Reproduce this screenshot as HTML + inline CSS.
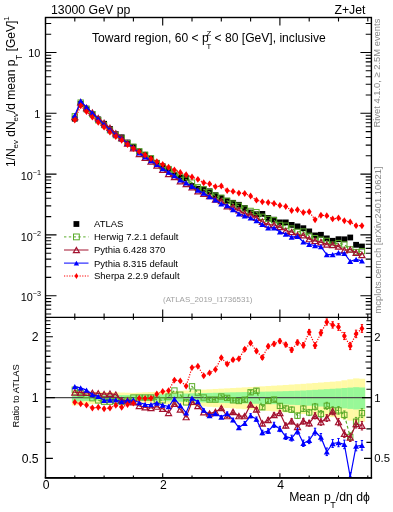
<!DOCTYPE html>
<html><head><meta charset="utf-8"><style>html,body{margin:0;padding:0;background:#fff;width:393px;height:512px;overflow:hidden}svg{display:block;will-change:transform}</style></head>
<body><svg width="393" height="512" viewBox="0 0 393 512">
<rect width="393" height="512" fill="#fff"/>
<rect x="71.87" y="390.44" width="6.16" height="14.95" fill="#fffaa5"/>
<rect x="77.73" y="390.85" width="6.16" height="14.07" fill="#fffaa5"/>
<rect x="83.59" y="391.26" width="6.16" height="13.18" fill="#fffaa5"/>
<rect x="89.45" y="391.66" width="6.16" height="12.30" fill="#fffaa5"/>
<rect x="95.31" y="391.84" width="6.16" height="11.92" fill="#fffaa5"/>
<rect x="101.17" y="392.02" width="6.16" height="11.55" fill="#fffaa5"/>
<rect x="107.03" y="392.19" width="6.16" height="11.17" fill="#fffaa5"/>
<rect x="112.89" y="392.37" width="6.16" height="10.79" fill="#fffaa5"/>
<rect x="118.75" y="392.55" width="6.16" height="10.41" fill="#fffaa5"/>
<rect x="124.61" y="392.72" width="6.16" height="10.04" fill="#fffaa5"/>
<rect x="130.47" y="392.90" width="6.16" height="9.66" fill="#fffaa5"/>
<rect x="136.33" y="392.63" width="6.16" height="10.24" fill="#fffaa5"/>
<rect x="142.19" y="392.36" width="6.16" height="10.82" fill="#fffaa5"/>
<rect x="148.05" y="392.08" width="6.16" height="11.40" fill="#fffaa5"/>
<rect x="153.91" y="391.81" width="6.16" height="11.98" fill="#fffaa5"/>
<rect x="159.77" y="391.54" width="6.16" height="12.57" fill="#fffaa5"/>
<rect x="165.63" y="391.27" width="6.16" height="13.15" fill="#fffaa5"/>
<rect x="171.49" y="391.00" width="6.16" height="13.73" fill="#fffaa5"/>
<rect x="177.35" y="390.73" width="6.16" height="14.31" fill="#fffaa5"/>
<rect x="183.21" y="390.47" width="6.16" height="14.90" fill="#fffaa5"/>
<rect x="189.07" y="390.20" width="6.16" height="15.48" fill="#fffaa5"/>
<rect x="194.93" y="389.89" width="6.16" height="16.16" fill="#fffaa5"/>
<rect x="200.79" y="389.58" width="6.16" height="16.85" fill="#fffaa5"/>
<rect x="206.65" y="389.27" width="6.16" height="17.53" fill="#fffaa5"/>
<rect x="212.51" y="388.97" width="6.16" height="18.21" fill="#fffaa5"/>
<rect x="218.37" y="388.66" width="6.16" height="18.90" fill="#fffaa5"/>
<rect x="224.23" y="388.35" width="6.16" height="19.58" fill="#fffaa5"/>
<rect x="230.09" y="388.05" width="6.16" height="20.27" fill="#fffaa5"/>
<rect x="235.95" y="387.71" width="6.16" height="21.05" fill="#fffaa5"/>
<rect x="241.81" y="387.36" width="6.16" height="21.82" fill="#fffaa5"/>
<rect x="247.67" y="387.02" width="6.16" height="22.60" fill="#fffaa5"/>
<rect x="253.53" y="386.68" width="6.16" height="23.39" fill="#fffaa5"/>
<rect x="259.39" y="386.35" width="6.16" height="24.17" fill="#fffaa5"/>
<rect x="265.25" y="386.01" width="6.16" height="24.95" fill="#fffaa5"/>
<rect x="271.11" y="385.67" width="6.16" height="25.73" fill="#fffaa5"/>
<rect x="276.97" y="385.34" width="6.16" height="26.52" fill="#fffaa5"/>
<rect x="282.83" y="384.96" width="6.16" height="27.42" fill="#fffaa5"/>
<rect x="288.69" y="384.58" width="6.16" height="28.32" fill="#fffaa5"/>
<rect x="294.55" y="384.20" width="6.16" height="29.22" fill="#fffaa5"/>
<rect x="300.41" y="383.83" width="6.16" height="30.12" fill="#fffaa5"/>
<rect x="306.27" y="383.39" width="6.16" height="31.17" fill="#fffaa5"/>
<rect x="312.13" y="382.96" width="6.16" height="32.23" fill="#fffaa5"/>
<rect x="317.99" y="382.52" width="6.16" height="33.29" fill="#fffaa5"/>
<rect x="323.85" y="382.09" width="6.16" height="34.35" fill="#fffaa5"/>
<rect x="329.71" y="381.67" width="6.16" height="35.42" fill="#fffaa5"/>
<rect x="335.57" y="381.24" width="6.16" height="36.49" fill="#fffaa5"/>
<rect x="341.43" y="380.28" width="6.16" height="38.93" fill="#fffaa5"/>
<rect x="347.29" y="379.32" width="6.16" height="41.40" fill="#fffaa5"/>
<rect x="353.15" y="378.38" width="6.16" height="43.88" fill="#fffaa5"/>
<rect x="359.01" y="378.73" width="6.16" height="42.95" fill="#fffaa5"/>
<rect x="71.87" y="393.74" width="6.16" height="7.90" fill="#98f898"/>
<rect x="77.73" y="394.02" width="6.16" height="7.31" fill="#98f898"/>
<rect x="83.59" y="394.30" width="6.16" height="6.73" fill="#98f898"/>
<rect x="89.45" y="394.58" width="6.16" height="6.14" fill="#98f898"/>
<rect x="95.31" y="394.67" width="6.16" height="5.97" fill="#98f898"/>
<rect x="101.17" y="394.75" width="6.16" height="5.79" fill="#98f898"/>
<rect x="107.03" y="394.84" width="6.16" height="5.62" fill="#98f898"/>
<rect x="112.89" y="394.92" width="6.16" height="5.44" fill="#98f898"/>
<rect x="118.75" y="395.01" width="6.16" height="5.27" fill="#98f898"/>
<rect x="124.61" y="395.09" width="6.16" height="5.09" fill="#98f898"/>
<rect x="130.47" y="395.18" width="6.16" height="4.91" fill="#98f898"/>
<rect x="136.33" y="394.99" width="6.16" height="5.30" fill="#98f898"/>
<rect x="142.19" y="394.80" width="6.16" height="5.69" fill="#98f898"/>
<rect x="148.05" y="394.62" width="6.16" height="6.07" fill="#98f898"/>
<rect x="153.91" y="394.43" width="6.16" height="6.46" fill="#98f898"/>
<rect x="159.77" y="394.24" width="6.16" height="6.85" fill="#98f898"/>
<rect x="165.63" y="394.06" width="6.16" height="7.23" fill="#98f898"/>
<rect x="171.49" y="393.87" width="6.16" height="7.62" fill="#98f898"/>
<rect x="177.35" y="393.69" width="6.16" height="8.01" fill="#98f898"/>
<rect x="183.21" y="393.50" width="6.16" height="8.39" fill="#98f898"/>
<rect x="189.07" y="393.32" width="6.16" height="8.78" fill="#98f898"/>
<rect x="194.93" y="393.18" width="6.16" height="9.08" fill="#98f898"/>
<rect x="200.79" y="393.03" width="6.16" height="9.38" fill="#98f898"/>
<rect x="206.65" y="392.89" width="6.16" height="9.68" fill="#98f898"/>
<rect x="212.51" y="392.75" width="6.16" height="9.99" fill="#98f898"/>
<rect x="218.37" y="392.61" width="6.16" height="10.29" fill="#98f898"/>
<rect x="224.23" y="392.46" width="6.16" height="10.59" fill="#98f898"/>
<rect x="230.09" y="392.32" width="6.16" height="10.89" fill="#98f898"/>
<rect x="235.95" y="392.20" width="6.16" height="11.16" fill="#98f898"/>
<rect x="241.81" y="392.08" width="6.16" height="11.42" fill="#98f898"/>
<rect x="247.67" y="391.95" width="6.16" height="11.69" fill="#98f898"/>
<rect x="253.53" y="391.83" width="6.16" height="11.95" fill="#98f898"/>
<rect x="259.39" y="391.71" width="6.16" height="12.21" fill="#98f898"/>
<rect x="265.25" y="391.58" width="6.16" height="12.48" fill="#98f898"/>
<rect x="271.11" y="391.46" width="6.16" height="12.74" fill="#98f898"/>
<rect x="276.97" y="391.34" width="6.16" height="13.01" fill="#98f898"/>
<rect x="282.83" y="391.13" width="6.16" height="13.45" fill="#98f898"/>
<rect x="288.69" y="390.93" width="6.16" height="13.89" fill="#98f898"/>
<rect x="294.55" y="390.73" width="6.16" height="14.33" fill="#98f898"/>
<rect x="300.41" y="390.52" width="6.16" height="14.77" fill="#98f898"/>
<rect x="306.27" y="390.17" width="6.16" height="15.54" fill="#98f898"/>
<rect x="312.13" y="389.83" width="6.16" height="16.31" fill="#98f898"/>
<rect x="317.99" y="389.48" width="6.16" height="17.07" fill="#98f898"/>
<rect x="323.85" y="389.13" width="6.16" height="17.84" fill="#98f898"/>
<rect x="329.71" y="388.79" width="6.16" height="18.61" fill="#98f898"/>
<rect x="335.57" y="388.44" width="6.16" height="19.38" fill="#98f898"/>
<rect x="341.43" y="388.02" width="6.16" height="20.33" fill="#98f898"/>
<rect x="347.29" y="387.61" width="6.16" height="21.28" fill="#98f898"/>
<rect x="353.15" y="387.19" width="6.16" height="22.23" fill="#98f898"/>
<rect x="359.01" y="387.50" width="6.16" height="21.51" fill="#98f898"/>
<line x1="45.5" y1="397.6" x2="371.4" y2="397.6" stroke="#4a4a4a" stroke-width="1.1"/>
<defs><clipPath id="cu"><rect x="45.5" y="17.5" width="325.9" height="299.9"/></clipPath><clipPath id="cr"><rect x="45.5" y="317.4" width="325.9" height="160.3"/></clipPath></defs>
<g clip-path="url(#cr)">
<path d="M209.58 398.34V400.86M208.38 398.34H210.78M208.38 400.86H210.78M215.44 398.26V400.94M214.24 398.26H216.64M214.24 400.94H216.64M221.30 395.08V397.92M220.10 395.08H222.50M220.10 397.92H222.50M227.16 396.39V399.41M225.96 396.39H228.36M225.96 399.41H228.36M233.02 398.70V401.90M231.82 398.70H234.22M231.82 401.90H234.22M238.88 399.31V402.69M237.68 399.31H240.08M237.68 402.69H240.08M244.74 397.91V401.49M243.54 397.91H245.94M243.54 401.49H245.94M250.60 390.41V394.19M249.40 390.41H251.80M249.40 394.19H251.80M256.46 388.71V392.69M255.26 388.71H257.66M255.26 392.69H257.66M262.32 405.20V409.40M261.12 405.20H263.52M261.12 409.40H263.52M268.18 398.79V403.21M266.98 398.79H269.38M266.98 403.21H269.38M274.04 397.28V401.92M272.84 397.28H275.24M272.84 401.92H275.24M279.90 403.46V408.34M278.70 403.46H281.10M278.70 408.34H281.10M285.76 405.94V411.06M284.56 405.94H286.96M284.56 411.06H286.96M291.62 407.01V412.39M290.42 407.01H292.82M290.42 412.39H292.82M297.48 412.89V418.51M296.28 412.89H298.68M296.28 418.51H298.68M303.34 405.66V411.54M302.14 405.66H304.54M302.14 411.54H304.54M309.20 409.42V415.58M308.00 409.42H310.40M308.00 415.58H310.40M315.06 403.48V409.92M313.86 403.48H316.26M313.86 409.92H316.26M320.92 410.64V417.36M319.72 410.64H322.12M319.72 417.36H322.12M326.78 402.30V409.30M325.58 402.30H327.98M325.58 409.30H327.98M332.64 406.75V414.05M331.44 406.75H333.84M331.44 414.05H333.84M338.50 406.60V414.20M337.30 406.60H339.70M337.30 414.20H339.70M344.36 410.94V418.86M343.16 410.94H345.56M343.16 418.86H345.56M350.22 432.89V441.11M349.02 432.89H351.42M349.02 441.11H351.42M356.08 417.42V425.98M354.88 417.42H357.28M354.88 425.98H357.28M361.94 408.66V417.54M360.74 408.66H363.14M360.74 417.54H363.14" stroke="#5aab2a" stroke-width="1" fill="none"/>
<path d="M209.58 412.39V414.81M208.38 412.39H210.78M208.38 414.81H210.78M215.44 410.62V413.18M214.24 410.62H216.64M214.24 413.18H216.64M221.30 406.64V409.36M220.10 406.64H222.50M220.10 409.36H222.50M227.16 414.65V417.55M225.96 414.65H228.36M225.96 417.55H228.36M233.02 410.37V413.43M231.82 410.37H234.22M231.82 413.43H234.22M238.88 414.48V417.72M237.68 414.48H240.08M237.68 417.72H240.08M244.74 414.39V417.81M243.54 414.39H245.94M243.54 417.81H245.94M250.60 402.69V406.31M249.40 402.69H251.80M249.40 406.31H251.80M256.46 407.49V411.31M255.26 407.49H257.66M255.26 411.31H257.66M262.32 421.39V425.41M261.12 421.39H263.52M261.12 425.41H263.52M268.18 417.78V422.02M266.98 417.78H269.38M266.98 422.02H269.38M274.04 412.77V417.23M272.84 412.77H275.24M272.84 417.23H275.24M279.90 410.56V415.24M278.70 410.56H281.10M278.70 415.24H281.10M285.76 423.04V427.96M284.56 423.04H286.96M284.56 427.96H286.96M291.62 418.73V423.87M290.42 418.73H292.82M290.42 423.87H292.82M297.48 424.20V429.60M296.28 424.20H298.68M296.28 429.60H298.68M303.34 418.38V424.02M302.14 418.38H304.54M302.14 424.02H304.54M309.20 420.25V426.15M308.00 420.25H310.40M308.00 426.15H310.40M315.06 412.72V418.88M313.86 412.72H316.26M313.86 418.88H316.26M320.92 418.88V425.32M319.72 418.88H322.12M319.72 425.32H322.12M326.78 414.74V421.46M325.58 414.74H327.98M325.58 421.46H327.98M332.64 407.80V414.80M331.44 407.80H333.84M331.44 414.80H333.84M338.50 418.46V425.74M337.30 418.46H339.70M337.30 425.74H339.70M344.36 430.01V437.59M343.16 430.01H345.56M343.16 437.59H345.56M350.22 433.56V441.44M349.02 433.56H351.42M349.02 441.44H351.42M356.08 419.80V428.00M354.88 419.80H357.28M354.88 428.00H357.28M361.94 421.44V429.95M360.74 421.44H363.14M360.74 429.95H363.14" stroke="#a3122f" stroke-width="1" fill="none"/>
<path d="M197.86 400.50V402.90M196.66 400.50H199.06M196.66 402.90H199.06M203.72 408.82V411.38M202.52 408.82H204.92M202.52 411.38H204.92M209.58 414.14V416.86M208.38 414.14H210.78M208.38 416.86H210.78M215.44 412.05V414.95M214.24 412.05H216.64M214.24 414.95H216.64M221.30 415.56V418.64M220.10 415.56H222.50M220.10 418.64H222.50M227.16 411.97V415.23M225.96 411.97H228.36M225.96 415.23H228.36M233.02 418.17V421.63M231.82 418.17H234.22M231.82 421.63H234.22M238.88 425.77V429.43M237.68 425.77H240.08M237.68 429.43H240.08M244.74 421.46V425.34M243.54 421.46H245.94M243.54 425.34H245.94M250.60 413.65V417.75M249.40 413.65H251.80M249.40 417.75H251.80M256.46 417.04V421.36M255.26 417.04H257.66M255.26 421.36H257.66M262.32 430.22V434.78M261.12 430.22H263.52M261.12 434.78H263.52M268.18 428.71V433.49M266.98 428.71H269.38M266.98 433.49H269.38M274.04 422.28V427.32M272.84 422.28H275.24M272.84 427.32H275.24M279.90 426.35V431.65M278.70 426.35H281.10M278.70 431.65H281.10M285.76 433.92V439.48M284.56 433.92H286.96M284.56 439.48H286.96M291.62 435.19V441.01M290.42 435.19H292.82M290.42 441.01H292.82M297.48 428.05V434.15M296.28 428.05H298.68M296.28 434.15H298.68M303.34 440.11V446.49M302.14 440.11H304.54M302.14 446.49H304.54M309.20 436.96V443.64M308.00 436.96H310.40M308.00 443.64H310.40M315.06 428.22V435.18M313.86 428.22H316.26M313.86 435.18H316.26M320.92 433.56V440.84M319.72 433.56H322.12M319.72 440.84H322.12M326.78 448.01V455.59M325.58 448.01H327.98M325.58 455.59H327.98M332.64 439.55V447.45M331.44 439.55H333.84M331.44 447.45H333.84M338.50 438.48V446.72M337.30 438.48H339.70M337.30 446.72H339.70M344.36 440.11V448.69M343.16 440.11H345.56M343.16 448.69H345.56M350.22 472.44V481.36M349.02 472.44H351.42M349.02 481.36H351.42M356.08 441.57V450.83M354.88 441.57H357.28M354.88 450.83H357.28M361.94 440.49V450.11M360.74 440.49H363.14M360.74 450.11H363.14" stroke="#0000ff" stroke-width="1" fill="none"/>
<path d="M221.30 356.46V358.94M220.10 356.46H222.50M220.10 358.94H222.50M227.16 362.68V365.32M225.96 362.68H228.36M225.96 365.32H228.36M233.02 358.40V361.20M231.82 358.40H234.22M231.82 361.20H234.22M238.88 357.22V360.18M237.68 357.22H240.08M237.68 360.18H240.08M244.74 347.73V350.87M243.54 347.73H245.94M243.54 350.87H245.94M250.60 341.35V344.65M249.40 341.35H251.80M249.40 344.65H251.80M256.46 349.26V352.74M255.26 349.26H257.66M255.26 352.74H257.66M262.32 355.66V359.34M261.12 355.66H263.52M261.12 359.34H263.52M268.18 344.37V348.23M266.98 344.37H269.38M266.98 348.23H269.38M274.04 341.87V345.93M272.84 341.87H275.24M272.84 345.93H275.24M279.90 338.96V343.24M278.70 338.96H281.10M278.70 343.24H281.10M285.76 342.36V346.84M284.56 342.36H286.96M284.56 346.84H286.96M291.62 347.55V352.25M290.42 347.55H292.82M290.42 352.25H292.82M297.48 340.04V344.96M296.28 340.04H298.68M296.28 344.96H298.68M303.34 342.62V347.78M302.14 342.62H304.54M302.14 347.78H304.54M309.20 329.41V334.79M308.00 329.41H310.40M308.00 334.79H310.40M315.06 342.69V348.31M313.86 342.69H316.26M313.86 348.31H316.26M320.92 329.86V335.74M319.72 329.86H322.12M319.72 335.74H322.12M326.78 318.94V325.06M325.58 318.94H327.98M325.58 325.06H327.98M332.64 321.71V328.09M331.44 321.71H333.84M331.44 328.09H333.84M338.50 323.67V330.33M337.30 323.67H339.70M337.30 330.33H339.70M344.36 332.64V339.56M343.16 332.64H345.56M343.16 339.56H345.56M350.22 342.40V349.60M349.02 342.40H351.42M349.02 349.60H351.42M356.08 330.16V337.64M354.88 330.16H357.28M354.88 337.64H357.28M361.94 324.62V332.38M360.74 324.62H363.14M360.74 332.38H363.14" stroke="#ff0000" stroke-width="1" fill="none"/>
<polyline points="74.80,389.70 80.66,393.30 86.52,395.00 92.38,398.20 98.24,400.40 104.10,401.70 109.96,401.70 115.82,400.80 121.68,402.00 127.54,400.00 133.40,397.50 139.26,397.50 145.12,397.50 150.98,397.50 156.84,399.60 162.70,400.30 168.56,396.50 174.42,390.50 180.28,394.70 186.14,402.40 192.00,386.30 197.86,392.60 203.72,397.50 209.58,399.60 215.44,399.60 221.30,396.50 227.16,397.90 233.02,400.30 238.88,401.00 244.74,399.70 250.60,392.30 256.46,390.70 262.32,407.30 268.18,401.00 274.04,399.60 279.90,405.90 285.76,408.50 291.62,409.70 297.48,415.70 303.34,408.60 309.20,412.50 315.06,406.70 320.92,414.00 326.78,405.80 332.64,410.40 338.50,410.40 344.36,414.90 350.22,437.00 356.08,421.70 361.94,413.10" fill="none" stroke="#5aab2a" stroke-width="1.2" stroke-dasharray="3,2.2"/>
<rect x="72.15" y="387.05" width="5.3" height="5.3" fill="none" stroke="#5aab2a" stroke-width="1.0"/>
<rect x="78.01" y="390.65" width="5.3" height="5.3" fill="none" stroke="#5aab2a" stroke-width="1.0"/>
<rect x="83.87" y="392.35" width="5.3" height="5.3" fill="none" stroke="#5aab2a" stroke-width="1.0"/>
<rect x="89.73" y="395.55" width="5.3" height="5.3" fill="none" stroke="#5aab2a" stroke-width="1.0"/>
<rect x="95.59" y="397.75" width="5.3" height="5.3" fill="none" stroke="#5aab2a" stroke-width="1.0"/>
<rect x="101.45" y="399.05" width="5.3" height="5.3" fill="none" stroke="#5aab2a" stroke-width="1.0"/>
<rect x="107.31" y="399.05" width="5.3" height="5.3" fill="none" stroke="#5aab2a" stroke-width="1.0"/>
<rect x="113.17" y="398.15" width="5.3" height="5.3" fill="none" stroke="#5aab2a" stroke-width="1.0"/>
<rect x="119.03" y="399.35" width="5.3" height="5.3" fill="none" stroke="#5aab2a" stroke-width="1.0"/>
<rect x="124.89" y="397.35" width="5.3" height="5.3" fill="none" stroke="#5aab2a" stroke-width="1.0"/>
<rect x="130.75" y="394.85" width="5.3" height="5.3" fill="none" stroke="#5aab2a" stroke-width="1.0"/>
<rect x="136.61" y="394.85" width="5.3" height="5.3" fill="none" stroke="#5aab2a" stroke-width="1.0"/>
<rect x="142.47" y="394.85" width="5.3" height="5.3" fill="none" stroke="#5aab2a" stroke-width="1.0"/>
<rect x="148.33" y="394.85" width="5.3" height="5.3" fill="none" stroke="#5aab2a" stroke-width="1.0"/>
<rect x="154.19" y="396.95" width="5.3" height="5.3" fill="none" stroke="#5aab2a" stroke-width="1.0"/>
<rect x="160.05" y="397.65" width="5.3" height="5.3" fill="none" stroke="#5aab2a" stroke-width="1.0"/>
<rect x="165.91" y="393.85" width="5.3" height="5.3" fill="none" stroke="#5aab2a" stroke-width="1.0"/>
<rect x="171.77" y="387.85" width="5.3" height="5.3" fill="none" stroke="#5aab2a" stroke-width="1.0"/>
<rect x="177.63" y="392.05" width="5.3" height="5.3" fill="none" stroke="#5aab2a" stroke-width="1.0"/>
<rect x="183.49" y="399.75" width="5.3" height="5.3" fill="none" stroke="#5aab2a" stroke-width="1.0"/>
<rect x="189.35" y="383.65" width="5.3" height="5.3" fill="none" stroke="#5aab2a" stroke-width="1.0"/>
<rect x="195.21" y="389.95" width="5.3" height="5.3" fill="none" stroke="#5aab2a" stroke-width="1.0"/>
<rect x="201.07" y="394.85" width="5.3" height="5.3" fill="none" stroke="#5aab2a" stroke-width="1.0"/>
<rect x="206.93" y="396.95" width="5.3" height="5.3" fill="none" stroke="#5aab2a" stroke-width="1.0"/>
<rect x="212.79" y="396.95" width="5.3" height="5.3" fill="none" stroke="#5aab2a" stroke-width="1.0"/>
<rect x="218.65" y="393.85" width="5.3" height="5.3" fill="none" stroke="#5aab2a" stroke-width="1.0"/>
<rect x="224.51" y="395.25" width="5.3" height="5.3" fill="none" stroke="#5aab2a" stroke-width="1.0"/>
<rect x="230.37" y="397.65" width="5.3" height="5.3" fill="none" stroke="#5aab2a" stroke-width="1.0"/>
<rect x="236.23" y="398.35" width="5.3" height="5.3" fill="none" stroke="#5aab2a" stroke-width="1.0"/>
<rect x="242.09" y="397.05" width="5.3" height="5.3" fill="none" stroke="#5aab2a" stroke-width="1.0"/>
<rect x="247.95" y="389.65" width="5.3" height="5.3" fill="none" stroke="#5aab2a" stroke-width="1.0"/>
<rect x="253.81" y="388.05" width="5.3" height="5.3" fill="none" stroke="#5aab2a" stroke-width="1.0"/>
<rect x="259.67" y="404.65" width="5.3" height="5.3" fill="none" stroke="#5aab2a" stroke-width="1.0"/>
<rect x="265.53" y="398.35" width="5.3" height="5.3" fill="none" stroke="#5aab2a" stroke-width="1.0"/>
<rect x="271.39" y="396.95" width="5.3" height="5.3" fill="none" stroke="#5aab2a" stroke-width="1.0"/>
<rect x="277.25" y="403.25" width="5.3" height="5.3" fill="none" stroke="#5aab2a" stroke-width="1.0"/>
<rect x="283.11" y="405.85" width="5.3" height="5.3" fill="none" stroke="#5aab2a" stroke-width="1.0"/>
<rect x="288.97" y="407.05" width="5.3" height="5.3" fill="none" stroke="#5aab2a" stroke-width="1.0"/>
<rect x="294.83" y="413.05" width="5.3" height="5.3" fill="none" stroke="#5aab2a" stroke-width="1.0"/>
<rect x="300.69" y="405.95" width="5.3" height="5.3" fill="none" stroke="#5aab2a" stroke-width="1.0"/>
<rect x="306.55" y="409.85" width="5.3" height="5.3" fill="none" stroke="#5aab2a" stroke-width="1.0"/>
<rect x="312.41" y="404.05" width="5.3" height="5.3" fill="none" stroke="#5aab2a" stroke-width="1.0"/>
<rect x="318.27" y="411.35" width="5.3" height="5.3" fill="none" stroke="#5aab2a" stroke-width="1.0"/>
<rect x="324.13" y="403.15" width="5.3" height="5.3" fill="none" stroke="#5aab2a" stroke-width="1.0"/>
<rect x="329.99" y="407.75" width="5.3" height="5.3" fill="none" stroke="#5aab2a" stroke-width="1.0"/>
<rect x="335.85" y="407.75" width="5.3" height="5.3" fill="none" stroke="#5aab2a" stroke-width="1.0"/>
<rect x="341.71" y="412.25" width="5.3" height="5.3" fill="none" stroke="#5aab2a" stroke-width="1.0"/>
<rect x="347.57" y="434.35" width="5.3" height="5.3" fill="none" stroke="#5aab2a" stroke-width="1.0"/>
<rect x="353.43" y="419.05" width="5.3" height="5.3" fill="none" stroke="#5aab2a" stroke-width="1.0"/>
<rect x="359.29" y="410.45" width="5.3" height="5.3" fill="none" stroke="#5aab2a" stroke-width="1.0"/>
<polyline points="74.80,392.40 80.66,392.40 86.52,392.80 92.38,392.80 98.24,393.30 104.10,394.10 109.96,393.70 115.82,394.60 121.68,400.30 127.54,400.60 133.40,402.20 139.26,405.90 145.12,407.30 150.98,408.00 156.84,406.60 162.70,408.70 168.56,412.90 174.42,403.80 180.28,409.40 186.14,417.10 192.00,401.70 197.86,405.90 203.72,412.20 209.58,413.60 215.44,411.90 221.30,408.00 227.16,416.10 233.02,411.90 238.88,416.10 244.74,416.10 250.60,404.50 256.46,409.40 262.32,423.40 268.18,419.90 274.04,415.00 279.90,412.90 285.76,425.50 291.62,421.30 297.48,426.90 303.34,421.20 309.20,423.20 315.06,415.80 320.92,422.10 326.78,418.10 332.64,411.30 338.50,422.10 344.36,433.80 350.22,437.50 356.08,423.90 361.94,425.70" fill="none" stroke="#a3122f" stroke-width="1.2"/>
<polygon points="71.80,395.04 77.80,395.04 74.80,389.76" fill="none" stroke="#a3122f" stroke-width="1.2"/>
<polygon points="77.66,395.04 83.66,395.04 80.66,389.76" fill="none" stroke="#a3122f" stroke-width="1.2"/>
<polygon points="83.52,395.44 89.52,395.44 86.52,390.16" fill="none" stroke="#a3122f" stroke-width="1.2"/>
<polygon points="89.38,395.44 95.38,395.44 92.38,390.16" fill="none" stroke="#a3122f" stroke-width="1.2"/>
<polygon points="95.24,395.94 101.24,395.94 98.24,390.66" fill="none" stroke="#a3122f" stroke-width="1.2"/>
<polygon points="101.10,396.74 107.10,396.74 104.10,391.46" fill="none" stroke="#a3122f" stroke-width="1.2"/>
<polygon points="106.96,396.34 112.96,396.34 109.96,391.06" fill="none" stroke="#a3122f" stroke-width="1.2"/>
<polygon points="112.82,397.24 118.82,397.24 115.82,391.96" fill="none" stroke="#a3122f" stroke-width="1.2"/>
<polygon points="118.68,402.94 124.68,402.94 121.68,397.66" fill="none" stroke="#a3122f" stroke-width="1.2"/>
<polygon points="124.54,403.24 130.54,403.24 127.54,397.96" fill="none" stroke="#a3122f" stroke-width="1.2"/>
<polygon points="130.40,404.84 136.40,404.84 133.40,399.56" fill="none" stroke="#a3122f" stroke-width="1.2"/>
<polygon points="136.26,408.54 142.26,408.54 139.26,403.26" fill="none" stroke="#a3122f" stroke-width="1.2"/>
<polygon points="142.12,409.94 148.12,409.94 145.12,404.66" fill="none" stroke="#a3122f" stroke-width="1.2"/>
<polygon points="147.98,410.64 153.98,410.64 150.98,405.36" fill="none" stroke="#a3122f" stroke-width="1.2"/>
<polygon points="153.84,409.24 159.84,409.24 156.84,403.96" fill="none" stroke="#a3122f" stroke-width="1.2"/>
<polygon points="159.70,411.34 165.70,411.34 162.70,406.06" fill="none" stroke="#a3122f" stroke-width="1.2"/>
<polygon points="165.56,415.54 171.56,415.54 168.56,410.26" fill="none" stroke="#a3122f" stroke-width="1.2"/>
<polygon points="171.42,406.44 177.42,406.44 174.42,401.16" fill="none" stroke="#a3122f" stroke-width="1.2"/>
<polygon points="177.28,412.04 183.28,412.04 180.28,406.76" fill="none" stroke="#a3122f" stroke-width="1.2"/>
<polygon points="183.14,419.74 189.14,419.74 186.14,414.46" fill="none" stroke="#a3122f" stroke-width="1.2"/>
<polygon points="189.00,404.34 195.00,404.34 192.00,399.06" fill="none" stroke="#a3122f" stroke-width="1.2"/>
<polygon points="194.86,408.54 200.86,408.54 197.86,403.26" fill="none" stroke="#a3122f" stroke-width="1.2"/>
<polygon points="200.72,414.84 206.72,414.84 203.72,409.56" fill="none" stroke="#a3122f" stroke-width="1.2"/>
<polygon points="206.58,416.24 212.58,416.24 209.58,410.96" fill="none" stroke="#a3122f" stroke-width="1.2"/>
<polygon points="212.44,414.54 218.44,414.54 215.44,409.26" fill="none" stroke="#a3122f" stroke-width="1.2"/>
<polygon points="218.30,410.64 224.30,410.64 221.30,405.36" fill="none" stroke="#a3122f" stroke-width="1.2"/>
<polygon points="224.16,418.74 230.16,418.74 227.16,413.46" fill="none" stroke="#a3122f" stroke-width="1.2"/>
<polygon points="230.02,414.54 236.02,414.54 233.02,409.26" fill="none" stroke="#a3122f" stroke-width="1.2"/>
<polygon points="235.88,418.74 241.88,418.74 238.88,413.46" fill="none" stroke="#a3122f" stroke-width="1.2"/>
<polygon points="241.74,418.74 247.74,418.74 244.74,413.46" fill="none" stroke="#a3122f" stroke-width="1.2"/>
<polygon points="247.60,407.14 253.60,407.14 250.60,401.86" fill="none" stroke="#a3122f" stroke-width="1.2"/>
<polygon points="253.46,412.04 259.46,412.04 256.46,406.76" fill="none" stroke="#a3122f" stroke-width="1.2"/>
<polygon points="259.32,426.04 265.32,426.04 262.32,420.76" fill="none" stroke="#a3122f" stroke-width="1.2"/>
<polygon points="265.18,422.54 271.18,422.54 268.18,417.26" fill="none" stroke="#a3122f" stroke-width="1.2"/>
<polygon points="271.04,417.64 277.04,417.64 274.04,412.36" fill="none" stroke="#a3122f" stroke-width="1.2"/>
<polygon points="276.90,415.54 282.90,415.54 279.90,410.26" fill="none" stroke="#a3122f" stroke-width="1.2"/>
<polygon points="282.76,428.14 288.76,428.14 285.76,422.86" fill="none" stroke="#a3122f" stroke-width="1.2"/>
<polygon points="288.62,423.94 294.62,423.94 291.62,418.66" fill="none" stroke="#a3122f" stroke-width="1.2"/>
<polygon points="294.48,429.54 300.48,429.54 297.48,424.26" fill="none" stroke="#a3122f" stroke-width="1.2"/>
<polygon points="300.34,423.84 306.34,423.84 303.34,418.56" fill="none" stroke="#a3122f" stroke-width="1.2"/>
<polygon points="306.20,425.84 312.20,425.84 309.20,420.56" fill="none" stroke="#a3122f" stroke-width="1.2"/>
<polygon points="312.06,418.44 318.06,418.44 315.06,413.16" fill="none" stroke="#a3122f" stroke-width="1.2"/>
<polygon points="317.92,424.74 323.92,424.74 320.92,419.46" fill="none" stroke="#a3122f" stroke-width="1.2"/>
<polygon points="323.78,420.74 329.78,420.74 326.78,415.46" fill="none" stroke="#a3122f" stroke-width="1.2"/>
<polygon points="329.64,413.94 335.64,413.94 332.64,408.66" fill="none" stroke="#a3122f" stroke-width="1.2"/>
<polygon points="335.50,424.74 341.50,424.74 338.50,419.46" fill="none" stroke="#a3122f" stroke-width="1.2"/>
<polygon points="341.36,436.44 347.36,436.44 344.36,431.16" fill="none" stroke="#a3122f" stroke-width="1.2"/>
<polygon points="347.22,440.14 353.22,440.14 350.22,434.86" fill="none" stroke="#a3122f" stroke-width="1.2"/>
<polygon points="353.08,426.54 359.08,426.54 356.08,421.26" fill="none" stroke="#a3122f" stroke-width="1.2"/>
<polygon points="358.94,428.34 364.94,428.34 361.94,423.06" fill="none" stroke="#a3122f" stroke-width="1.2"/>
<polyline points="74.80,386.60 80.66,387.90 86.52,390.10 92.38,394.60 98.24,396.40 104.10,400.40 109.96,400.00 115.82,399.80 121.68,401.70 127.54,400.50 133.40,400.00 139.26,402.50 145.12,404.30 150.98,404.60 156.84,403.00 162.70,405.00 168.56,406.50 174.42,399.00 180.28,405.50 186.14,412.90 192.00,398.20 197.86,401.70 203.72,410.10 209.58,415.50 215.44,413.50 221.30,417.10 227.16,413.60 233.02,419.90 238.88,427.60 244.74,423.40 250.60,415.70 256.46,419.20 262.32,432.50 268.18,431.10 274.04,424.80 279.90,429.00 285.76,436.70 291.62,438.10 297.48,431.10 303.34,443.30 309.20,440.30 315.06,431.70 320.92,437.20 326.78,451.80 332.64,443.50 338.50,442.60 344.36,444.40 350.22,476.90 356.08,446.20 361.94,445.30" fill="none" stroke="#0000ff" stroke-width="1.2"/>
<polygon points="71.80,389.24 77.80,389.24 74.80,383.96" fill="#0000ff"/>
<polygon points="77.66,390.54 83.66,390.54 80.66,385.26" fill="#0000ff"/>
<polygon points="83.52,392.74 89.52,392.74 86.52,387.46" fill="#0000ff"/>
<polygon points="89.38,397.24 95.38,397.24 92.38,391.96" fill="#0000ff"/>
<polygon points="95.24,399.04 101.24,399.04 98.24,393.76" fill="#0000ff"/>
<polygon points="101.10,403.04 107.10,403.04 104.10,397.76" fill="#0000ff"/>
<polygon points="106.96,402.64 112.96,402.64 109.96,397.36" fill="#0000ff"/>
<polygon points="112.82,402.44 118.82,402.44 115.82,397.16" fill="#0000ff"/>
<polygon points="118.68,404.34 124.68,404.34 121.68,399.06" fill="#0000ff"/>
<polygon points="124.54,403.14 130.54,403.14 127.54,397.86" fill="#0000ff"/>
<polygon points="130.40,402.64 136.40,402.64 133.40,397.36" fill="#0000ff"/>
<polygon points="136.26,405.14 142.26,405.14 139.26,399.86" fill="#0000ff"/>
<polygon points="142.12,406.94 148.12,406.94 145.12,401.66" fill="#0000ff"/>
<polygon points="147.98,407.24 153.98,407.24 150.98,401.96" fill="#0000ff"/>
<polygon points="153.84,405.64 159.84,405.64 156.84,400.36" fill="#0000ff"/>
<polygon points="159.70,407.64 165.70,407.64 162.70,402.36" fill="#0000ff"/>
<polygon points="165.56,409.14 171.56,409.14 168.56,403.86" fill="#0000ff"/>
<polygon points="171.42,401.64 177.42,401.64 174.42,396.36" fill="#0000ff"/>
<polygon points="177.28,408.14 183.28,408.14 180.28,402.86" fill="#0000ff"/>
<polygon points="183.14,415.54 189.14,415.54 186.14,410.26" fill="#0000ff"/>
<polygon points="189.00,400.84 195.00,400.84 192.00,395.56" fill="#0000ff"/>
<polygon points="194.86,404.34 200.86,404.34 197.86,399.06" fill="#0000ff"/>
<polygon points="200.72,412.74 206.72,412.74 203.72,407.46" fill="#0000ff"/>
<polygon points="206.58,418.14 212.58,418.14 209.58,412.86" fill="#0000ff"/>
<polygon points="212.44,416.14 218.44,416.14 215.44,410.86" fill="#0000ff"/>
<polygon points="218.30,419.74 224.30,419.74 221.30,414.46" fill="#0000ff"/>
<polygon points="224.16,416.24 230.16,416.24 227.16,410.96" fill="#0000ff"/>
<polygon points="230.02,422.54 236.02,422.54 233.02,417.26" fill="#0000ff"/>
<polygon points="235.88,430.24 241.88,430.24 238.88,424.96" fill="#0000ff"/>
<polygon points="241.74,426.04 247.74,426.04 244.74,420.76" fill="#0000ff"/>
<polygon points="247.60,418.34 253.60,418.34 250.60,413.06" fill="#0000ff"/>
<polygon points="253.46,421.84 259.46,421.84 256.46,416.56" fill="#0000ff"/>
<polygon points="259.32,435.14 265.32,435.14 262.32,429.86" fill="#0000ff"/>
<polygon points="265.18,433.74 271.18,433.74 268.18,428.46" fill="#0000ff"/>
<polygon points="271.04,427.44 277.04,427.44 274.04,422.16" fill="#0000ff"/>
<polygon points="276.90,431.64 282.90,431.64 279.90,426.36" fill="#0000ff"/>
<polygon points="282.76,439.34 288.76,439.34 285.76,434.06" fill="#0000ff"/>
<polygon points="288.62,440.74 294.62,440.74 291.62,435.46" fill="#0000ff"/>
<polygon points="294.48,433.74 300.48,433.74 297.48,428.46" fill="#0000ff"/>
<polygon points="300.34,445.94 306.34,445.94 303.34,440.66" fill="#0000ff"/>
<polygon points="306.20,442.94 312.20,442.94 309.20,437.66" fill="#0000ff"/>
<polygon points="312.06,434.34 318.06,434.34 315.06,429.06" fill="#0000ff"/>
<polygon points="317.92,439.84 323.92,439.84 320.92,434.56" fill="#0000ff"/>
<polygon points="323.78,454.44 329.78,454.44 326.78,449.16" fill="#0000ff"/>
<polygon points="329.64,446.14 335.64,446.14 332.64,440.86" fill="#0000ff"/>
<polygon points="335.50,445.24 341.50,445.24 338.50,439.96" fill="#0000ff"/>
<polygon points="341.36,447.04 347.36,447.04 344.36,441.76" fill="#0000ff"/>
<polygon points="347.22,479.54 353.22,479.54 350.22,474.26" fill="#0000ff"/>
<polygon points="353.08,448.84 359.08,448.84 356.08,443.56" fill="#0000ff"/>
<polygon points="358.94,447.94 364.94,447.94 361.94,442.66" fill="#0000ff"/>
<polyline points="74.80,402.20 80.66,403.70 86.52,405.10 92.38,408.00 98.24,407.20 104.10,408.80 109.96,408.00 115.82,405.20 121.68,407.30 127.54,404.50 133.40,403.10 139.26,398.20 145.12,398.50 150.98,398.20 156.84,394.00 162.70,391.50 168.56,390.60 174.42,380.10 180.28,380.90 186.14,386.10 192.00,367.60 197.86,366.20 203.72,375.70 209.58,372.90 215.44,369.50 221.30,357.70 227.16,364.00 233.02,359.80 238.88,358.70 244.74,349.30 250.60,343.00 256.46,351.00 262.32,357.50 268.18,346.30 274.04,343.90 279.90,341.10 285.76,344.60 291.62,349.90 297.48,342.50 303.34,345.20 309.20,332.10 315.06,345.50 320.92,332.80 326.78,322.00 332.64,324.90 338.50,327.00 344.36,336.10 350.22,346.00 356.08,333.90 361.94,328.50" fill="none" stroke="#ff0000" stroke-width="1.2" stroke-dasharray="1.2,1.4"/>
<polygon points="74.80,398.75 77.25,402.20 74.80,405.65 72.35,402.20" fill="#ff0000"/>
<polygon points="80.66,400.25 83.11,403.70 80.66,407.15 78.21,403.70" fill="#ff0000"/>
<polygon points="86.52,401.65 88.97,405.10 86.52,408.55 84.07,405.10" fill="#ff0000"/>
<polygon points="92.38,404.55 94.83,408.00 92.38,411.45 89.93,408.00" fill="#ff0000"/>
<polygon points="98.24,403.75 100.69,407.20 98.24,410.65 95.79,407.20" fill="#ff0000"/>
<polygon points="104.10,405.35 106.55,408.80 104.10,412.25 101.65,408.80" fill="#ff0000"/>
<polygon points="109.96,404.55 112.41,408.00 109.96,411.45 107.51,408.00" fill="#ff0000"/>
<polygon points="115.82,401.75 118.27,405.20 115.82,408.65 113.37,405.20" fill="#ff0000"/>
<polygon points="121.68,403.85 124.13,407.30 121.68,410.75 119.23,407.30" fill="#ff0000"/>
<polygon points="127.54,401.05 129.99,404.50 127.54,407.95 125.09,404.50" fill="#ff0000"/>
<polygon points="133.40,399.65 135.85,403.10 133.40,406.55 130.95,403.10" fill="#ff0000"/>
<polygon points="139.26,394.75 141.71,398.20 139.26,401.65 136.81,398.20" fill="#ff0000"/>
<polygon points="145.12,395.05 147.57,398.50 145.12,401.95 142.67,398.50" fill="#ff0000"/>
<polygon points="150.98,394.75 153.43,398.20 150.98,401.65 148.53,398.20" fill="#ff0000"/>
<polygon points="156.84,390.55 159.29,394.00 156.84,397.45 154.39,394.00" fill="#ff0000"/>
<polygon points="162.70,388.05 165.15,391.50 162.70,394.95 160.25,391.50" fill="#ff0000"/>
<polygon points="168.56,387.15 171.01,390.60 168.56,394.05 166.11,390.60" fill="#ff0000"/>
<polygon points="174.42,376.65 176.87,380.10 174.42,383.55 171.97,380.10" fill="#ff0000"/>
<polygon points="180.28,377.45 182.73,380.90 180.28,384.35 177.83,380.90" fill="#ff0000"/>
<polygon points="186.14,382.65 188.59,386.10 186.14,389.55 183.69,386.10" fill="#ff0000"/>
<polygon points="192.00,364.15 194.45,367.60 192.00,371.05 189.55,367.60" fill="#ff0000"/>
<polygon points="197.86,362.75 200.31,366.20 197.86,369.65 195.41,366.20" fill="#ff0000"/>
<polygon points="203.72,372.25 206.17,375.70 203.72,379.15 201.27,375.70" fill="#ff0000"/>
<polygon points="209.58,369.45 212.03,372.90 209.58,376.35 207.13,372.90" fill="#ff0000"/>
<polygon points="215.44,366.05 217.89,369.50 215.44,372.95 212.99,369.50" fill="#ff0000"/>
<polygon points="221.30,354.25 223.75,357.70 221.30,361.15 218.85,357.70" fill="#ff0000"/>
<polygon points="227.16,360.55 229.61,364.00 227.16,367.45 224.71,364.00" fill="#ff0000"/>
<polygon points="233.02,356.35 235.47,359.80 233.02,363.25 230.57,359.80" fill="#ff0000"/>
<polygon points="238.88,355.25 241.33,358.70 238.88,362.15 236.43,358.70" fill="#ff0000"/>
<polygon points="244.74,345.85 247.19,349.30 244.74,352.75 242.29,349.30" fill="#ff0000"/>
<polygon points="250.60,339.55 253.05,343.00 250.60,346.45 248.15,343.00" fill="#ff0000"/>
<polygon points="256.46,347.55 258.91,351.00 256.46,354.45 254.01,351.00" fill="#ff0000"/>
<polygon points="262.32,354.05 264.77,357.50 262.32,360.95 259.87,357.50" fill="#ff0000"/>
<polygon points="268.18,342.85 270.63,346.30 268.18,349.75 265.73,346.30" fill="#ff0000"/>
<polygon points="274.04,340.45 276.49,343.90 274.04,347.35 271.59,343.90" fill="#ff0000"/>
<polygon points="279.90,337.65 282.35,341.10 279.90,344.55 277.45,341.10" fill="#ff0000"/>
<polygon points="285.76,341.15 288.21,344.60 285.76,348.05 283.31,344.60" fill="#ff0000"/>
<polygon points="291.62,346.45 294.07,349.90 291.62,353.35 289.17,349.90" fill="#ff0000"/>
<polygon points="297.48,339.05 299.93,342.50 297.48,345.95 295.03,342.50" fill="#ff0000"/>
<polygon points="303.34,341.75 305.79,345.20 303.34,348.65 300.89,345.20" fill="#ff0000"/>
<polygon points="309.20,328.65 311.65,332.10 309.20,335.55 306.75,332.10" fill="#ff0000"/>
<polygon points="315.06,342.05 317.51,345.50 315.06,348.95 312.61,345.50" fill="#ff0000"/>
<polygon points="320.92,329.35 323.37,332.80 320.92,336.25 318.47,332.80" fill="#ff0000"/>
<polygon points="326.78,318.55 329.23,322.00 326.78,325.45 324.33,322.00" fill="#ff0000"/>
<polygon points="332.64,321.45 335.09,324.90 332.64,328.35 330.19,324.90" fill="#ff0000"/>
<polygon points="338.50,323.55 340.95,327.00 338.50,330.45 336.05,327.00" fill="#ff0000"/>
<polygon points="344.36,332.65 346.81,336.10 344.36,339.55 341.91,336.10" fill="#ff0000"/>
<polygon points="350.22,342.55 352.67,346.00 350.22,349.45 347.77,346.00" fill="#ff0000"/>
<polygon points="356.08,330.45 358.53,333.90 356.08,337.35 353.63,333.90" fill="#ff0000"/>
<polygon points="361.94,325.05 364.39,328.50 361.94,331.95 359.49,328.50" fill="#ff0000"/>
</g>
<g clip-path="url(#cu)">
<rect x="71.90" y="115.80" width="5.8" height="5.8" fill="#000"/>
<rect x="77.76" y="101.00" width="5.8" height="5.8" fill="#000"/>
<rect x="83.62" y="106.50" width="5.8" height="5.8" fill="#000"/>
<rect x="89.48" y="111.10" width="5.8" height="5.8" fill="#000"/>
<rect x="95.34" y="116.50" width="5.8" height="5.8" fill="#000"/>
<rect x="101.20" y="120.90" width="5.8" height="5.8" fill="#000"/>
<rect x="107.06" y="126.10" width="5.8" height="5.8" fill="#000"/>
<rect x="112.92" y="131.30" width="5.8" height="5.8" fill="#000"/>
<rect x="118.78" y="134.40" width="5.8" height="5.8" fill="#000"/>
<rect x="124.64" y="139.60" width="5.8" height="5.8" fill="#000"/>
<rect x="130.50" y="143.90" width="5.8" height="5.8" fill="#000"/>
<rect x="136.36" y="148.50" width="5.8" height="5.8" fill="#000"/>
<rect x="142.22" y="151.90" width="5.8" height="5.8" fill="#000"/>
<rect x="148.08" y="155.50" width="5.8" height="5.8" fill="#000"/>
<rect x="153.94" y="159.90" width="5.8" height="5.8" fill="#000"/>
<rect x="159.80" y="163.40" width="5.8" height="5.8" fill="#000"/>
<rect x="165.66" y="166.50" width="5.8" height="5.8" fill="#000"/>
<rect x="171.52" y="172.30" width="5.8" height="5.8" fill="#000"/>
<rect x="177.38" y="174.70" width="5.8" height="5.8" fill="#000"/>
<rect x="183.24" y="175.30" width="5.8" height="5.8" fill="#000"/>
<rect x="189.10" y="183.10" width="5.8" height="5.8" fill="#000"/>
<rect x="194.96" y="185.90" width="5.8" height="5.8" fill="#000"/>
<rect x="200.82" y="186.50" width="5.8" height="5.8" fill="#000"/>
<rect x="206.68" y="188.40" width="5.8" height="5.8" fill="#000"/>
<rect x="212.54" y="192.20" width="5.8" height="5.8" fill="#000"/>
<rect x="218.40" y="195.10" width="5.8" height="5.8" fill="#000"/>
<rect x="224.26" y="197.80" width="5.8" height="5.8" fill="#000"/>
<rect x="230.12" y="199.90" width="5.8" height="5.8" fill="#000"/>
<rect x="235.98" y="201.90" width="5.8" height="5.8" fill="#000"/>
<rect x="241.84" y="205.10" width="5.8" height="5.8" fill="#000"/>
<rect x="247.70" y="209.60" width="5.8" height="5.8" fill="#000"/>
<rect x="253.56" y="211.30" width="5.8" height="5.8" fill="#000"/>
<rect x="259.42" y="211.00" width="5.8" height="5.8" fill="#000"/>
<rect x="265.28" y="215.00" width="5.8" height="5.8" fill="#000"/>
<rect x="271.14" y="216.80" width="5.8" height="5.8" fill="#000"/>
<rect x="277.00" y="219.50" width="5.8" height="5.8" fill="#000"/>
<rect x="282.86" y="219.50" width="5.8" height="5.8" fill="#000"/>
<rect x="288.72" y="222.00" width="5.8" height="5.8" fill="#000"/>
<rect x="294.58" y="223.50" width="5.8" height="5.8" fill="#000"/>
<rect x="300.44" y="225.30" width="5.8" height="5.8" fill="#000"/>
<rect x="306.30" y="228.50" width="5.8" height="5.8" fill="#000"/>
<rect x="312.16" y="232.50" width="5.8" height="5.8" fill="#000"/>
<rect x="318.02" y="231.90" width="5.8" height="5.8" fill="#000"/>
<rect x="323.88" y="235.50" width="5.8" height="5.8" fill="#000"/>
<rect x="329.74" y="237.90" width="5.8" height="5.8" fill="#000"/>
<rect x="335.60" y="236.30" width="5.8" height="5.8" fill="#000"/>
<rect x="341.46" y="236.40" width="5.8" height="5.8" fill="#000"/>
<rect x="347.32" y="234.60" width="5.8" height="5.8" fill="#000"/>
<rect x="353.18" y="241.90" width="5.8" height="5.8" fill="#000"/>
<rect x="359.04" y="243.60" width="5.8" height="5.8" fill="#000"/>
<polyline points="74.80,116.32 80.66,102.61 86.52,108.62 92.38,114.18 98.24,120.24 104.10,125.03 109.96,130.23 115.82,135.16 121.68,138.62 127.54,143.22 133.40,146.77 139.26,151.37 145.12,154.77 150.98,158.37 156.84,163.40 162.70,167.11 168.56,169.07 174.42,173.06 180.28,176.73 186.14,179.64 192.00,182.60 197.86,187.30 203.72,189.37 209.58,191.90 215.44,195.70 221.30,197.67 227.16,200.79 233.02,203.61 238.88,205.82 244.74,208.63 250.60,210.90 256.46,212.12 262.32,216.82 268.18,218.92 274.04,220.30 279.90,224.90 285.76,225.68 291.62,228.54 297.48,231.85 303.34,231.51 309.20,235.88 315.06,238.14 320.92,239.74 326.78,240.87 332.64,244.65 338.50,243.05 344.36,244.51 350.22,249.36 356.08,252.05 361.94,251.17" fill="none" stroke="#5aab2a" stroke-width="1.2" stroke-dasharray="3,2.2"/>
<rect x="72.15" y="113.67" width="5.3" height="5.3" fill="none" stroke="#5aab2a" stroke-width="1.0"/>
<rect x="78.01" y="99.96" width="5.3" height="5.3" fill="none" stroke="#5aab2a" stroke-width="1.0"/>
<rect x="83.87" y="105.97" width="5.3" height="5.3" fill="none" stroke="#5aab2a" stroke-width="1.0"/>
<rect x="89.73" y="111.53" width="5.3" height="5.3" fill="none" stroke="#5aab2a" stroke-width="1.0"/>
<rect x="95.59" y="117.59" width="5.3" height="5.3" fill="none" stroke="#5aab2a" stroke-width="1.0"/>
<rect x="101.45" y="122.38" width="5.3" height="5.3" fill="none" stroke="#5aab2a" stroke-width="1.0"/>
<rect x="107.31" y="127.58" width="5.3" height="5.3" fill="none" stroke="#5aab2a" stroke-width="1.0"/>
<rect x="113.17" y="132.51" width="5.3" height="5.3" fill="none" stroke="#5aab2a" stroke-width="1.0"/>
<rect x="119.03" y="135.97" width="5.3" height="5.3" fill="none" stroke="#5aab2a" stroke-width="1.0"/>
<rect x="124.89" y="140.57" width="5.3" height="5.3" fill="none" stroke="#5aab2a" stroke-width="1.0"/>
<rect x="130.75" y="144.12" width="5.3" height="5.3" fill="none" stroke="#5aab2a" stroke-width="1.0"/>
<rect x="136.61" y="148.72" width="5.3" height="5.3" fill="none" stroke="#5aab2a" stroke-width="1.0"/>
<rect x="142.47" y="152.12" width="5.3" height="5.3" fill="none" stroke="#5aab2a" stroke-width="1.0"/>
<rect x="148.33" y="155.72" width="5.3" height="5.3" fill="none" stroke="#5aab2a" stroke-width="1.0"/>
<rect x="154.19" y="160.75" width="5.3" height="5.3" fill="none" stroke="#5aab2a" stroke-width="1.0"/>
<rect x="160.05" y="164.46" width="5.3" height="5.3" fill="none" stroke="#5aab2a" stroke-width="1.0"/>
<rect x="165.91" y="166.42" width="5.3" height="5.3" fill="none" stroke="#5aab2a" stroke-width="1.0"/>
<rect x="171.77" y="170.41" width="5.3" height="5.3" fill="none" stroke="#5aab2a" stroke-width="1.0"/>
<rect x="177.63" y="174.08" width="5.3" height="5.3" fill="none" stroke="#5aab2a" stroke-width="1.0"/>
<rect x="183.49" y="176.99" width="5.3" height="5.3" fill="none" stroke="#5aab2a" stroke-width="1.0"/>
<rect x="189.35" y="179.95" width="5.3" height="5.3" fill="none" stroke="#5aab2a" stroke-width="1.0"/>
<rect x="195.21" y="184.65" width="5.3" height="5.3" fill="none" stroke="#5aab2a" stroke-width="1.0"/>
<rect x="201.07" y="186.72" width="5.3" height="5.3" fill="none" stroke="#5aab2a" stroke-width="1.0"/>
<rect x="206.93" y="189.25" width="5.3" height="5.3" fill="none" stroke="#5aab2a" stroke-width="1.0"/>
<rect x="212.79" y="193.05" width="5.3" height="5.3" fill="none" stroke="#5aab2a" stroke-width="1.0"/>
<rect x="218.65" y="195.02" width="5.3" height="5.3" fill="none" stroke="#5aab2a" stroke-width="1.0"/>
<rect x="224.51" y="198.14" width="5.3" height="5.3" fill="none" stroke="#5aab2a" stroke-width="1.0"/>
<rect x="230.37" y="200.96" width="5.3" height="5.3" fill="none" stroke="#5aab2a" stroke-width="1.0"/>
<rect x="236.23" y="203.17" width="5.3" height="5.3" fill="none" stroke="#5aab2a" stroke-width="1.0"/>
<rect x="242.09" y="205.98" width="5.3" height="5.3" fill="none" stroke="#5aab2a" stroke-width="1.0"/>
<rect x="247.95" y="208.25" width="5.3" height="5.3" fill="none" stroke="#5aab2a" stroke-width="1.0"/>
<rect x="253.81" y="209.47" width="5.3" height="5.3" fill="none" stroke="#5aab2a" stroke-width="1.0"/>
<rect x="259.67" y="214.17" width="5.3" height="5.3" fill="none" stroke="#5aab2a" stroke-width="1.0"/>
<rect x="265.53" y="216.27" width="5.3" height="5.3" fill="none" stroke="#5aab2a" stroke-width="1.0"/>
<rect x="271.39" y="217.65" width="5.3" height="5.3" fill="none" stroke="#5aab2a" stroke-width="1.0"/>
<rect x="277.25" y="222.25" width="5.3" height="5.3" fill="none" stroke="#5aab2a" stroke-width="1.0"/>
<rect x="283.11" y="223.03" width="5.3" height="5.3" fill="none" stroke="#5aab2a" stroke-width="1.0"/>
<rect x="288.97" y="225.89" width="5.3" height="5.3" fill="none" stroke="#5aab2a" stroke-width="1.0"/>
<rect x="294.83" y="229.20" width="5.3" height="5.3" fill="none" stroke="#5aab2a" stroke-width="1.0"/>
<rect x="300.69" y="228.86" width="5.3" height="5.3" fill="none" stroke="#5aab2a" stroke-width="1.0"/>
<rect x="306.55" y="233.23" width="5.3" height="5.3" fill="none" stroke="#5aab2a" stroke-width="1.0"/>
<rect x="312.41" y="235.49" width="5.3" height="5.3" fill="none" stroke="#5aab2a" stroke-width="1.0"/>
<rect x="318.27" y="237.09" width="5.3" height="5.3" fill="none" stroke="#5aab2a" stroke-width="1.0"/>
<rect x="324.13" y="238.22" width="5.3" height="5.3" fill="none" stroke="#5aab2a" stroke-width="1.0"/>
<rect x="329.99" y="242.00" width="5.3" height="5.3" fill="none" stroke="#5aab2a" stroke-width="1.0"/>
<rect x="335.85" y="240.40" width="5.3" height="5.3" fill="none" stroke="#5aab2a" stroke-width="1.0"/>
<rect x="341.71" y="241.86" width="5.3" height="5.3" fill="none" stroke="#5aab2a" stroke-width="1.0"/>
<rect x="347.57" y="246.71" width="5.3" height="5.3" fill="none" stroke="#5aab2a" stroke-width="1.0"/>
<rect x="353.43" y="249.40" width="5.3" height="5.3" fill="none" stroke="#5aab2a" stroke-width="1.0"/>
<rect x="359.29" y="248.52" width="5.3" height="5.3" fill="none" stroke="#5aab2a" stroke-width="1.0"/>
<polyline points="74.80,117.13 80.66,102.33 86.52,107.96 92.38,112.56 98.24,118.11 104.10,122.75 109.96,127.83 115.82,133.30 121.68,138.11 127.54,143.40 133.40,148.18 139.26,153.90 145.12,157.72 150.98,161.53 156.84,165.51 162.70,169.64 168.56,174.01 174.42,177.07 180.28,181.15 186.14,184.07 192.00,187.23 197.86,191.30 203.72,193.79 209.58,196.12 215.44,199.40 221.30,201.13 227.16,206.27 233.02,207.10 238.88,210.37 244.74,213.57 250.60,214.58 256.46,217.75 262.32,221.67 268.18,224.61 274.04,224.94 279.90,227.01 285.76,230.80 291.62,232.03 297.48,235.22 303.34,235.30 309.20,239.11 315.06,240.88 320.92,242.17 326.78,244.57 332.64,244.92 338.50,246.57 344.36,250.20 350.22,249.51 356.08,252.72 361.94,254.96" fill="none" stroke="#a3122f" stroke-width="1.2"/>
<polygon points="71.80,119.77 77.80,119.77 74.80,114.49" fill="none" stroke="#a3122f" stroke-width="1.2"/>
<polygon points="77.66,104.97 83.66,104.97 80.66,99.69" fill="none" stroke="#a3122f" stroke-width="1.2"/>
<polygon points="83.52,110.60 89.52,110.60 86.52,105.32" fill="none" stroke="#a3122f" stroke-width="1.2"/>
<polygon points="89.38,115.20 95.38,115.20 92.38,109.92" fill="none" stroke="#a3122f" stroke-width="1.2"/>
<polygon points="95.24,120.75 101.24,120.75 98.24,115.47" fill="none" stroke="#a3122f" stroke-width="1.2"/>
<polygon points="101.10,125.39 107.10,125.39 104.10,120.11" fill="none" stroke="#a3122f" stroke-width="1.2"/>
<polygon points="106.96,130.47 112.96,130.47 109.96,125.19" fill="none" stroke="#a3122f" stroke-width="1.2"/>
<polygon points="112.82,135.94 118.82,135.94 115.82,130.66" fill="none" stroke="#a3122f" stroke-width="1.2"/>
<polygon points="118.68,140.75 124.68,140.75 121.68,135.47" fill="none" stroke="#a3122f" stroke-width="1.2"/>
<polygon points="124.54,146.04 130.54,146.04 127.54,140.76" fill="none" stroke="#a3122f" stroke-width="1.2"/>
<polygon points="130.40,150.82 136.40,150.82 133.40,145.54" fill="none" stroke="#a3122f" stroke-width="1.2"/>
<polygon points="136.26,156.54 142.26,156.54 139.26,151.26" fill="none" stroke="#a3122f" stroke-width="1.2"/>
<polygon points="142.12,160.36 148.12,160.36 145.12,155.08" fill="none" stroke="#a3122f" stroke-width="1.2"/>
<polygon points="147.98,164.17 153.98,164.17 150.98,158.89" fill="none" stroke="#a3122f" stroke-width="1.2"/>
<polygon points="153.84,168.15 159.84,168.15 156.84,162.87" fill="none" stroke="#a3122f" stroke-width="1.2"/>
<polygon points="159.70,172.28 165.70,172.28 162.70,167.00" fill="none" stroke="#a3122f" stroke-width="1.2"/>
<polygon points="165.56,176.65 171.56,176.65 168.56,171.37" fill="none" stroke="#a3122f" stroke-width="1.2"/>
<polygon points="171.42,179.71 177.42,179.71 174.42,174.43" fill="none" stroke="#a3122f" stroke-width="1.2"/>
<polygon points="177.28,183.79 183.28,183.79 180.28,178.51" fill="none" stroke="#a3122f" stroke-width="1.2"/>
<polygon points="183.14,186.71 189.14,186.71 186.14,181.43" fill="none" stroke="#a3122f" stroke-width="1.2"/>
<polygon points="189.00,189.87 195.00,189.87 192.00,184.59" fill="none" stroke="#a3122f" stroke-width="1.2"/>
<polygon points="194.86,193.94 200.86,193.94 197.86,188.66" fill="none" stroke="#a3122f" stroke-width="1.2"/>
<polygon points="200.72,196.43 206.72,196.43 203.72,191.15" fill="none" stroke="#a3122f" stroke-width="1.2"/>
<polygon points="206.58,198.76 212.58,198.76 209.58,193.48" fill="none" stroke="#a3122f" stroke-width="1.2"/>
<polygon points="212.44,202.04 218.44,202.04 215.44,196.76" fill="none" stroke="#a3122f" stroke-width="1.2"/>
<polygon points="218.30,203.77 224.30,203.77 221.30,198.49" fill="none" stroke="#a3122f" stroke-width="1.2"/>
<polygon points="224.16,208.91 230.16,208.91 227.16,203.63" fill="none" stroke="#a3122f" stroke-width="1.2"/>
<polygon points="230.02,209.74 236.02,209.74 233.02,204.46" fill="none" stroke="#a3122f" stroke-width="1.2"/>
<polygon points="235.88,213.01 241.88,213.01 238.88,207.73" fill="none" stroke="#a3122f" stroke-width="1.2"/>
<polygon points="241.74,216.21 247.74,216.21 244.74,210.93" fill="none" stroke="#a3122f" stroke-width="1.2"/>
<polygon points="247.60,217.22 253.60,217.22 250.60,211.94" fill="none" stroke="#a3122f" stroke-width="1.2"/>
<polygon points="253.46,220.39 259.46,220.39 256.46,215.11" fill="none" stroke="#a3122f" stroke-width="1.2"/>
<polygon points="259.32,224.31 265.32,224.31 262.32,219.03" fill="none" stroke="#a3122f" stroke-width="1.2"/>
<polygon points="265.18,227.25 271.18,227.25 268.18,221.97" fill="none" stroke="#a3122f" stroke-width="1.2"/>
<polygon points="271.04,227.58 277.04,227.58 274.04,222.30" fill="none" stroke="#a3122f" stroke-width="1.2"/>
<polygon points="276.90,229.65 282.90,229.65 279.90,224.37" fill="none" stroke="#a3122f" stroke-width="1.2"/>
<polygon points="282.76,233.44 288.76,233.44 285.76,228.16" fill="none" stroke="#a3122f" stroke-width="1.2"/>
<polygon points="288.62,234.67 294.62,234.67 291.62,229.39" fill="none" stroke="#a3122f" stroke-width="1.2"/>
<polygon points="294.48,237.86 300.48,237.86 297.48,232.58" fill="none" stroke="#a3122f" stroke-width="1.2"/>
<polygon points="300.34,237.94 306.34,237.94 303.34,232.66" fill="none" stroke="#a3122f" stroke-width="1.2"/>
<polygon points="306.20,241.75 312.20,241.75 309.20,236.47" fill="none" stroke="#a3122f" stroke-width="1.2"/>
<polygon points="312.06,243.52 318.06,243.52 315.06,238.24" fill="none" stroke="#a3122f" stroke-width="1.2"/>
<polygon points="317.92,244.81 323.92,244.81 320.92,239.53" fill="none" stroke="#a3122f" stroke-width="1.2"/>
<polygon points="323.78,247.21 329.78,247.21 326.78,241.93" fill="none" stroke="#a3122f" stroke-width="1.2"/>
<polygon points="329.64,247.56 335.64,247.56 332.64,242.28" fill="none" stroke="#a3122f" stroke-width="1.2"/>
<polygon points="335.50,249.21 341.50,249.21 338.50,243.93" fill="none" stroke="#a3122f" stroke-width="1.2"/>
<polygon points="341.36,252.84 347.36,252.84 344.36,247.56" fill="none" stroke="#a3122f" stroke-width="1.2"/>
<polygon points="347.22,252.15 353.22,252.15 350.22,246.87" fill="none" stroke="#a3122f" stroke-width="1.2"/>
<polygon points="353.08,255.36 359.08,255.36 356.08,250.08" fill="none" stroke="#a3122f" stroke-width="1.2"/>
<polygon points="358.94,257.60 364.94,257.60 361.94,252.32" fill="none" stroke="#a3122f" stroke-width="1.2"/>
<polyline points="74.80,115.39 80.66,100.98 86.52,107.14 92.38,113.10 98.24,119.04 104.10,124.64 109.96,129.72 115.82,134.86 121.68,138.53 127.54,143.37 133.40,147.52 139.26,152.87 145.12,156.82 150.98,160.51 156.84,164.43 162.70,168.53 168.56,172.08 174.42,175.62 180.28,179.98 186.14,182.81 192.00,186.18 197.86,190.03 203.72,193.16 209.58,196.69 215.44,199.89 221.30,203.87 227.16,205.52 233.02,209.51 238.88,213.83 244.74,215.77 250.60,217.95 256.46,220.70 262.32,224.40 268.18,227.98 274.04,227.89 279.90,231.85 285.76,234.17 291.62,237.09 297.48,236.48 303.34,241.96 309.20,244.25 315.06,245.66 320.92,246.72 326.78,254.71 332.64,254.62 338.50,252.74 344.36,253.39 350.22,261.37 356.08,259.43 361.94,260.86" fill="none" stroke="#0000ff" stroke-width="1.2"/>
<polygon points="71.80,118.03 77.80,118.03 74.80,112.75" fill="#0000ff"/>
<polygon points="77.66,103.62 83.66,103.62 80.66,98.34" fill="#0000ff"/>
<polygon points="83.52,109.78 89.52,109.78 86.52,104.50" fill="#0000ff"/>
<polygon points="89.38,115.74 95.38,115.74 92.38,110.46" fill="#0000ff"/>
<polygon points="95.24,121.68 101.24,121.68 98.24,116.40" fill="#0000ff"/>
<polygon points="101.10,127.28 107.10,127.28 104.10,122.00" fill="#0000ff"/>
<polygon points="106.96,132.36 112.96,132.36 109.96,127.08" fill="#0000ff"/>
<polygon points="112.82,137.50 118.82,137.50 115.82,132.22" fill="#0000ff"/>
<polygon points="118.68,141.17 124.68,141.17 121.68,135.89" fill="#0000ff"/>
<polygon points="124.54,146.01 130.54,146.01 127.54,140.73" fill="#0000ff"/>
<polygon points="130.40,150.16 136.40,150.16 133.40,144.88" fill="#0000ff"/>
<polygon points="136.26,155.51 142.26,155.51 139.26,150.23" fill="#0000ff"/>
<polygon points="142.12,159.46 148.12,159.46 145.12,154.18" fill="#0000ff"/>
<polygon points="147.98,163.15 153.98,163.15 150.98,157.87" fill="#0000ff"/>
<polygon points="153.84,167.07 159.84,167.07 156.84,161.79" fill="#0000ff"/>
<polygon points="159.70,171.17 165.70,171.17 162.70,165.89" fill="#0000ff"/>
<polygon points="165.56,174.72 171.56,174.72 168.56,169.44" fill="#0000ff"/>
<polygon points="171.42,178.26 177.42,178.26 174.42,172.98" fill="#0000ff"/>
<polygon points="177.28,182.62 183.28,182.62 180.28,177.34" fill="#0000ff"/>
<polygon points="183.14,185.45 189.14,185.45 186.14,180.17" fill="#0000ff"/>
<polygon points="189.00,188.82 195.00,188.82 192.00,183.54" fill="#0000ff"/>
<polygon points="194.86,192.67 200.86,192.67 197.86,187.39" fill="#0000ff"/>
<polygon points="200.72,195.80 206.72,195.80 203.72,190.52" fill="#0000ff"/>
<polygon points="206.58,199.33 212.58,199.33 209.58,194.05" fill="#0000ff"/>
<polygon points="212.44,202.53 218.44,202.53 215.44,197.25" fill="#0000ff"/>
<polygon points="218.30,206.51 224.30,206.51 221.30,201.23" fill="#0000ff"/>
<polygon points="224.16,208.16 230.16,208.16 227.16,202.88" fill="#0000ff"/>
<polygon points="230.02,212.15 236.02,212.15 233.02,206.87" fill="#0000ff"/>
<polygon points="235.88,216.47 241.88,216.47 238.88,211.19" fill="#0000ff"/>
<polygon points="241.74,218.41 247.74,218.41 244.74,213.13" fill="#0000ff"/>
<polygon points="247.60,220.59 253.60,220.59 250.60,215.31" fill="#0000ff"/>
<polygon points="253.46,223.34 259.46,223.34 256.46,218.06" fill="#0000ff"/>
<polygon points="259.32,227.04 265.32,227.04 262.32,221.76" fill="#0000ff"/>
<polygon points="265.18,230.62 271.18,230.62 268.18,225.34" fill="#0000ff"/>
<polygon points="271.04,230.53 277.04,230.53 274.04,225.25" fill="#0000ff"/>
<polygon points="276.90,234.49 282.90,234.49 279.90,229.21" fill="#0000ff"/>
<polygon points="282.76,236.81 288.76,236.81 285.76,231.53" fill="#0000ff"/>
<polygon points="288.62,239.73 294.62,239.73 291.62,234.45" fill="#0000ff"/>
<polygon points="294.48,239.12 300.48,239.12 297.48,233.84" fill="#0000ff"/>
<polygon points="300.34,244.60 306.34,244.60 303.34,239.32" fill="#0000ff"/>
<polygon points="306.20,246.89 312.20,246.89 309.20,241.61" fill="#0000ff"/>
<polygon points="312.06,248.30 318.06,248.30 315.06,243.02" fill="#0000ff"/>
<polygon points="317.92,249.36 323.92,249.36 320.92,244.08" fill="#0000ff"/>
<polygon points="323.78,257.35 329.78,257.35 326.78,252.07" fill="#0000ff"/>
<polygon points="329.64,257.26 335.64,257.26 332.64,251.98" fill="#0000ff"/>
<polygon points="335.50,255.38 341.50,255.38 338.50,250.10" fill="#0000ff"/>
<polygon points="341.36,256.03 347.36,256.03 344.36,250.75" fill="#0000ff"/>
<polygon points="347.22,264.01 353.22,264.01 350.22,258.73" fill="#0000ff"/>
<polygon points="353.08,262.07 359.08,262.07 356.08,256.79" fill="#0000ff"/>
<polygon points="358.94,263.50 364.94,263.50 361.94,258.22" fill="#0000ff"/>
<polyline points="74.80,120.08 80.66,105.74 86.52,111.66 92.38,117.13 98.24,122.29 104.10,127.17 109.96,132.13 115.82,136.49 121.68,140.22 127.54,144.58 133.40,148.46 139.26,151.58 145.12,155.07 150.98,158.58 156.84,161.72 162.70,164.46 168.56,167.29 174.42,169.93 180.28,172.57 186.14,174.74 192.00,176.97 197.86,179.35 203.72,182.81 209.58,183.87 215.44,186.64 221.30,185.99 227.16,190.59 233.02,191.42 238.88,193.09 244.74,193.46 250.60,196.07 256.46,200.17 262.32,201.83 268.18,202.46 274.04,203.54 279.90,205.39 285.76,206.45 291.62,210.54 297.48,209.81 303.34,212.43 309.20,211.68 315.06,219.72 320.92,215.30 326.78,215.64 332.64,218.92 338.50,217.95 344.36,220.79 350.22,221.97 356.08,225.63 361.94,225.70" fill="none" stroke="#ff0000" stroke-width="1.2" stroke-dasharray="1.2,1.4"/>
<polygon points="74.80,116.63 77.25,120.08 74.80,123.53 72.35,120.08" fill="#ff0000"/>
<polygon points="80.66,102.29 83.11,105.74 80.66,109.19 78.21,105.74" fill="#ff0000"/>
<polygon points="86.52,108.21 88.97,111.66 86.52,115.11 84.07,111.66" fill="#ff0000"/>
<polygon points="92.38,113.68 94.83,117.13 92.38,120.58 89.93,117.13" fill="#ff0000"/>
<polygon points="98.24,118.84 100.69,122.29 98.24,125.74 95.79,122.29" fill="#ff0000"/>
<polygon points="104.10,123.72 106.55,127.17 104.10,130.62 101.65,127.17" fill="#ff0000"/>
<polygon points="109.96,128.68 112.41,132.13 109.96,135.58 107.51,132.13" fill="#ff0000"/>
<polygon points="115.82,133.04 118.27,136.49 115.82,139.94 113.37,136.49" fill="#ff0000"/>
<polygon points="121.68,136.77 124.13,140.22 121.68,143.67 119.23,140.22" fill="#ff0000"/>
<polygon points="127.54,141.13 129.99,144.58 127.54,148.03 125.09,144.58" fill="#ff0000"/>
<polygon points="133.40,145.01 135.85,148.46 133.40,151.91 130.95,148.46" fill="#ff0000"/>
<polygon points="139.26,148.13 141.71,151.58 139.26,155.03 136.81,151.58" fill="#ff0000"/>
<polygon points="145.12,151.62 147.57,155.07 145.12,158.52 142.67,155.07" fill="#ff0000"/>
<polygon points="150.98,155.13 153.43,158.58 150.98,162.03 148.53,158.58" fill="#ff0000"/>
<polygon points="156.84,158.27 159.29,161.72 156.84,165.17 154.39,161.72" fill="#ff0000"/>
<polygon points="162.70,161.01 165.15,164.46 162.70,167.91 160.25,164.46" fill="#ff0000"/>
<polygon points="168.56,163.84 171.01,167.29 168.56,170.74 166.11,167.29" fill="#ff0000"/>
<polygon points="174.42,166.48 176.87,169.93 174.42,173.38 171.97,169.93" fill="#ff0000"/>
<polygon points="180.28,169.12 182.73,172.57 180.28,176.02 177.83,172.57" fill="#ff0000"/>
<polygon points="186.14,171.29 188.59,174.74 186.14,178.19 183.69,174.74" fill="#ff0000"/>
<polygon points="192.00,173.52 194.45,176.97 192.00,180.42 189.55,176.97" fill="#ff0000"/>
<polygon points="197.86,175.90 200.31,179.35 197.86,182.80 195.41,179.35" fill="#ff0000"/>
<polygon points="203.72,179.36 206.17,182.81 203.72,186.26 201.27,182.81" fill="#ff0000"/>
<polygon points="209.58,180.42 212.03,183.87 209.58,187.32 207.13,183.87" fill="#ff0000"/>
<polygon points="215.44,183.19 217.89,186.64 215.44,190.09 212.99,186.64" fill="#ff0000"/>
<polygon points="221.30,182.54 223.75,185.99 221.30,189.44 218.85,185.99" fill="#ff0000"/>
<polygon points="227.16,187.14 229.61,190.59 227.16,194.04 224.71,190.59" fill="#ff0000"/>
<polygon points="233.02,187.97 235.47,191.42 233.02,194.87 230.57,191.42" fill="#ff0000"/>
<polygon points="238.88,189.64 241.33,193.09 238.88,196.54 236.43,193.09" fill="#ff0000"/>
<polygon points="244.74,190.01 247.19,193.46 244.74,196.91 242.29,193.46" fill="#ff0000"/>
<polygon points="250.60,192.62 253.05,196.07 250.60,199.52 248.15,196.07" fill="#ff0000"/>
<polygon points="256.46,196.72 258.91,200.17 256.46,203.62 254.01,200.17" fill="#ff0000"/>
<polygon points="262.32,198.38 264.77,201.83 262.32,205.28 259.87,201.83" fill="#ff0000"/>
<polygon points="268.18,199.01 270.63,202.46 268.18,205.91 265.73,202.46" fill="#ff0000"/>
<polygon points="274.04,200.09 276.49,203.54 274.04,206.99 271.59,203.54" fill="#ff0000"/>
<polygon points="279.90,201.94 282.35,205.39 279.90,208.84 277.45,205.39" fill="#ff0000"/>
<polygon points="285.76,203.00 288.21,206.45 285.76,209.90 283.31,206.45" fill="#ff0000"/>
<polygon points="291.62,207.09 294.07,210.54 291.62,213.99 289.17,210.54" fill="#ff0000"/>
<polygon points="297.48,206.36 299.93,209.81 297.48,213.26 295.03,209.81" fill="#ff0000"/>
<polygon points="303.34,208.98 305.79,212.43 303.34,215.88 300.89,212.43" fill="#ff0000"/>
<polygon points="309.20,208.23 311.65,211.68 309.20,215.13 306.75,211.68" fill="#ff0000"/>
<polygon points="315.06,216.27 317.51,219.72 315.06,223.17 312.61,219.72" fill="#ff0000"/>
<polygon points="320.92,211.85 323.37,215.30 320.92,218.75 318.47,215.30" fill="#ff0000"/>
<polygon points="326.78,212.19 329.23,215.64 326.78,219.09 324.33,215.64" fill="#ff0000"/>
<polygon points="332.64,215.47 335.09,218.92 332.64,222.37 330.19,218.92" fill="#ff0000"/>
<polygon points="338.50,214.50 340.95,217.95 338.50,221.40 336.05,217.95" fill="#ff0000"/>
<polygon points="344.36,217.34 346.81,220.79 344.36,224.24 341.91,220.79" fill="#ff0000"/>
<polygon points="350.22,218.52 352.67,221.97 350.22,225.42 347.77,221.97" fill="#ff0000"/>
<polygon points="356.08,222.18 358.53,225.63 356.08,229.08 353.63,225.63" fill="#ff0000"/>
<polygon points="361.94,222.25 364.39,225.70 361.94,229.15 359.49,225.70" fill="#ff0000"/>
</g>
<rect x="45.5" y="17.5" width="325.9" height="460.2" fill="none" stroke="#000" stroke-width="1.4"/>
<line x1="45.5" y1="317.4" x2="371.4" y2="317.4" stroke="#000" stroke-width="1.2"/>
<line x1="44.8" y1="477.9" x2="372.09999999999997" y2="477.9" stroke="#000" stroke-width="1.7"/>
<path d="M45.50 17.50L45.50 25.50 M45.50 317.40L45.50 309.40 M45.50 317.40L45.50 321.90 M45.50 477.70L45.50 473.20 M74.80 17.50L74.80 21.50 M74.80 317.40L74.80 313.40 M74.80 317.40L74.80 319.70 M74.80 477.70L74.80 475.40 M104.10 17.50L104.10 21.50 M104.10 317.40L104.10 313.40 M104.10 317.40L104.10 319.70 M104.10 477.70L104.10 475.40 M133.40 17.50L133.40 21.50 M133.40 317.40L133.40 313.40 M133.40 317.40L133.40 319.70 M133.40 477.70L133.40 475.40 M162.70 17.50L162.70 25.50 M162.70 317.40L162.70 309.40 M162.70 317.40L162.70 321.90 M162.70 477.70L162.70 473.20 M192.00 17.50L192.00 21.50 M192.00 317.40L192.00 313.40 M192.00 317.40L192.00 319.70 M192.00 477.70L192.00 475.40 M221.30 17.50L221.30 21.50 M221.30 317.40L221.30 313.40 M221.30 317.40L221.30 319.70 M221.30 477.70L221.30 475.40 M250.60 17.50L250.60 21.50 M250.60 317.40L250.60 313.40 M250.60 317.40L250.60 319.70 M250.60 477.70L250.60 475.40 M279.90 17.50L279.90 25.50 M279.90 317.40L279.90 309.40 M279.90 317.40L279.90 321.90 M279.90 477.70L279.90 473.20 M309.20 17.50L309.20 21.50 M309.20 317.40L309.20 313.40 M309.20 317.40L309.20 319.70 M309.20 477.70L309.20 475.40 M338.50 17.50L338.50 21.50 M338.50 317.40L338.50 313.40 M338.50 317.40L338.50 319.70 M338.50 477.70L338.50 475.40 M367.80 17.50L367.80 21.50 M367.80 317.40L367.80 313.40 M367.80 317.40L367.80 319.70 M367.80 477.70L367.80 475.40 M45.50 314.00L51.20 314.00 M371.40 314.00L365.70 314.00 M45.50 309.19L51.20 309.19 M371.40 309.19L365.70 309.19 M45.50 305.12L51.20 305.12 M371.40 305.12L365.70 305.12 M45.50 301.59L51.20 301.59 M371.40 301.59L365.70 301.59 M45.50 298.48L51.20 298.48 M371.40 298.48L365.70 298.48 M45.50 295.70L56.50 295.70 M371.40 295.70L360.40 295.70 M45.50 277.40L51.20 277.40 M371.40 277.40L365.70 277.40 M45.50 266.69L51.20 266.69 M371.40 266.69L365.70 266.69 M45.50 259.09L51.20 259.09 M371.40 259.09L365.70 259.09 M45.50 253.20L51.20 253.20 M371.40 253.20L365.70 253.20 M45.50 248.39L51.20 248.39 M371.40 248.39L365.70 248.39 M45.50 244.32L51.20 244.32 M371.40 244.32L365.70 244.32 M45.50 240.79L51.20 240.79 M371.40 240.79L365.70 240.79 M45.50 237.68L51.20 237.68 M371.40 237.68L365.70 237.68 M45.50 234.90L56.50 234.90 M371.40 234.90L360.40 234.90 M45.50 216.60L51.20 216.60 M371.40 216.60L365.70 216.60 M45.50 205.89L51.20 205.89 M371.40 205.89L365.70 205.89 M45.50 198.29L51.20 198.29 M371.40 198.29L365.70 198.29 M45.50 192.40L51.20 192.40 M371.40 192.40L365.70 192.40 M45.50 187.59L51.20 187.59 M371.40 187.59L365.70 187.59 M45.50 183.52L51.20 183.52 M371.40 183.52L365.70 183.52 M45.50 179.99L51.20 179.99 M371.40 179.99L365.70 179.99 M45.50 176.88L51.20 176.88 M371.40 176.88L365.70 176.88 M45.50 174.10L56.50 174.10 M371.40 174.10L360.40 174.10 M45.50 155.80L51.20 155.80 M371.40 155.80L365.70 155.80 M45.50 145.09L51.20 145.09 M371.40 145.09L365.70 145.09 M45.50 137.49L51.20 137.49 M371.40 137.49L365.70 137.49 M45.50 131.60L51.20 131.60 M371.40 131.60L365.70 131.60 M45.50 126.79L51.20 126.79 M371.40 126.79L365.70 126.79 M45.50 122.72L51.20 122.72 M371.40 122.72L365.70 122.72 M45.50 119.19L51.20 119.19 M371.40 119.19L365.70 119.19 M45.50 116.08L51.20 116.08 M371.40 116.08L365.70 116.08 M45.50 113.30L56.50 113.30 M371.40 113.30L360.40 113.30 M45.50 95.00L51.20 95.00 M371.40 95.00L365.70 95.00 M45.50 84.29L51.20 84.29 M371.40 84.29L365.70 84.29 M45.50 76.69L51.20 76.69 M371.40 76.69L365.70 76.69 M45.50 70.80L51.20 70.80 M371.40 70.80L365.70 70.80 M45.50 65.99L51.20 65.99 M371.40 65.99L365.70 65.99 M45.50 61.92L51.20 61.92 M371.40 61.92L365.70 61.92 M45.50 58.39L51.20 58.39 M371.40 58.39L365.70 58.39 M45.50 55.28L51.20 55.28 M371.40 55.28L365.70 55.28 M45.50 52.50L56.50 52.50 M371.40 52.50L360.40 52.50 M45.50 34.20L51.20 34.20 M371.40 34.20L365.70 34.20 M45.50 23.49L51.20 23.49 M371.40 23.49L365.70 23.49 M45.50 458.41L52.90 458.41 M371.40 458.41L364.00 458.41 M45.50 442.41L50.50 442.41 M371.40 442.41L366.40 442.41 M45.50 428.89L50.50 428.89 M371.40 428.89L366.40 428.89 M45.50 417.18L50.50 417.18 M371.40 417.18L366.40 417.18 M45.50 406.84L50.50 406.84 M371.40 406.84L366.40 406.84 M45.50 397.60L54.90 397.60 M371.40 397.60L362.00 397.60 M45.50 389.24L50.50 389.24 M371.40 389.24L366.40 389.24 M45.50 381.61L50.50 381.61 M371.40 381.61L366.40 381.61 M45.50 374.58L50.50 374.58 M371.40 374.58L366.40 374.58 M45.50 368.08L50.50 368.08 M371.40 368.08L366.40 368.08 M45.50 362.03L51.50 362.03 M371.40 362.03L365.40 362.03 M45.50 356.37L50.50 356.37 M371.40 356.37L366.40 356.37 M45.50 351.05L50.50 351.05 M371.40 351.05L366.40 351.05 M45.50 346.03L50.50 346.03 M371.40 346.03L366.40 346.03 M45.50 341.29L50.50 341.29 M371.40 341.29L366.40 341.29 M45.50 336.79L52.90 336.79 M371.40 336.79L364.00 336.79 M45.50 332.51L50.50 332.51 M371.40 332.51L366.40 332.51 M45.50 328.43L50.50 328.43 M371.40 328.43L366.40 328.43 M45.50 324.53L50.50 324.53 M371.40 324.53L366.40 324.53 M45.50 320.80L50.50 320.80 M371.40 320.80L366.40 320.80" stroke="#000" stroke-width="1.1" fill="none"/>
<text x="51" y="14.3" font-size="12.3" text-anchor="start" fill="#000" font-family="Liberation Sans, sans-serif" >13000 GeV pp</text>
<text x="365.5" y="14.3" font-size="12.3" text-anchor="end" fill="#000" font-family="Liberation Sans, sans-serif" >Z+Jet</text>
<text x="92" y="42.3" font-size="12.1" text-anchor="start" fill="#000" font-family="Liberation Sans, sans-serif" >Toward region, 60 &lt; p<tspan dy="-5.9" dx="-2.2" font-size="7.8">Z</tspan><tspan dy="12.2" dx="-4.77" font-size="7.8">T</tspan><tspan dy="-6.3"> &lt; 80 [GeV], inclusive</tspan></text>
<text x="40.3" y="57.0" font-size="10.9" text-anchor="end" fill="#000" font-family="Liberation Sans, sans-serif" >10</text>
<text x="40.3" y="117.8" font-size="10.9" text-anchor="end" fill="#000" font-family="Liberation Sans, sans-serif" >1</text>
<text x="40.9" y="179.8" font-size="10.9" text-anchor="end" font-family="Liberation Sans, sans-serif">10<tspan dy="-5" dx="-0.1" font-size="7.2">−1</tspan></text>
<text x="40.9" y="240.6" font-size="10.9" text-anchor="end" font-family="Liberation Sans, sans-serif">10<tspan dy="-5" dx="-0.1" font-size="7.2">−2</tspan></text>
<text x="40.9" y="301.4" font-size="10.9" text-anchor="end" font-family="Liberation Sans, sans-serif">10<tspan dy="-5" dx="-0.1" font-size="7.2">−3</tspan></text>
<text x="38.6" y="341.0919408758758" font-size="12.2" text-anchor="end" fill="#000" font-family="Liberation Sans, sans-serif" >2</text>
<text x="374.3" y="340.8" font-size="11.3" text-anchor="start" fill="#000" font-family="Liberation Sans, sans-serif" >2</text>
<text x="38.6" y="401.90000000000003" font-size="12.2" text-anchor="end" fill="#000" font-family="Liberation Sans, sans-serif" >1</text>
<text x="374.3" y="401.6" font-size="11.3" text-anchor="start" fill="#000" font-family="Liberation Sans, sans-serif" >1</text>
<text x="38.6" y="462.70805912412425" font-size="12.2" text-anchor="end" fill="#000" font-family="Liberation Sans, sans-serif" >0.5</text>
<text x="374.3" y="462.4" font-size="11.3" text-anchor="start" fill="#000" font-family="Liberation Sans, sans-serif" >0.5</text>
<text x="46.2" y="489.3" font-size="12.2" text-anchor="middle" fill="#000" font-family="Liberation Sans, sans-serif" >0</text>
<text x="163.4" y="489.3" font-size="12.2" text-anchor="middle" fill="#000" font-family="Liberation Sans, sans-serif" >2</text>
<text x="280.6" y="489.3" font-size="12.2" text-anchor="middle" fill="#000" font-family="Liberation Sans, sans-serif" >4</text>
<text x="289.2" y="500.7" font-size="12.2" font-family="Liberation Sans, sans-serif">Mean <tspan dx="0.8">p</tspan><tspan dy="6.8" dx="-0.3" font-size="9">T</tspan><tspan dy="-6.8">/dη dϕ</tspan></text>
<text transform="translate(14.8,167.1) rotate(-90)" font-size="12" font-family="Liberation Sans, sans-serif">1/N<tspan dy="3" font-size="7.9">ev</tspan><tspan dy="-3"> dN</tspan><tspan dy="3" font-size="7.9">ev</tspan><tspan dy="-3">/d mean p</tspan><tspan dy="7" font-size="8.2">T</tspan><tspan dy="-7"> [GeV]</tspan><tspan dy="-6.1" font-size="7.7">1</tspan></text>
<text transform="translate(18.9,427.6) rotate(-90)" font-size="9.4" font-family="Liberation Sans, sans-serif">Ratio to ATLAS</text>
<text transform="translate(380,127.5) rotate(-90)" font-size="9.4" fill="#888" font-family="Liberation Sans, sans-serif">Rivet 4.1.0, ≥ 2.5M events</text>
<text transform="translate(381.2,313.5) rotate(-90)" font-size="9.4" fill="#888" font-family="Liberation Sans, sans-serif">mcplots.cern.ch [arXiv:2401.10621]</text>
<text x="163" y="301.8" font-size="7.95" text-anchor="start" fill="#a0a0a0" font-family="Liberation Sans, sans-serif" >(ATLAS_2019_I1736531)</text>
<rect x="73.50" y="221.10" width="5.8" height="5.8" fill="#000"/>
<line x1="64" y1="236.9" x2="88.5" y2="236.9" stroke="#5aab2a" stroke-width="1" stroke-dasharray="2.4,2.4"/>
<rect x="73.50" y="234.00" width="5.8" height="5.8" fill="none" stroke="#5aab2a" stroke-width="1.0"/>
<line x1="64" y1="250" x2="88.5" y2="250" stroke="#a3122f" stroke-width="1"/>
<polygon points="73.40,252.64 79.40,252.64 76.40,247.36" fill="none" stroke="#a3122f" stroke-width="1.2"/>
<line x1="64" y1="263.1" x2="88.5" y2="263.1" stroke="#0000ff" stroke-width="1"/>
<polygon points="73.70,265.48 79.10,265.48 76.40,260.72" fill="#0000ff"/>
<line x1="64" y1="276" x2="88.5" y2="276" stroke="#ff0000" stroke-width="1" stroke-dasharray="1.2,1.4"/>
<polygon points="76.40,272.90 78.20,276.00 76.40,279.10 74.60,276.00" fill="#ff0000"/>
<text x="94" y="227.4" font-size="9.5" text-anchor="start" fill="#000" font-family="Liberation Sans, sans-serif" >ATLAS</text>
<text x="94" y="240.3" font-size="9.5" text-anchor="start" fill="#000" font-family="Liberation Sans, sans-serif" >Herwig 7.2.1 default</text>
<text x="94" y="253.4" font-size="9.5" text-anchor="start" fill="#000" font-family="Liberation Sans, sans-serif" >Pythia 6.428 370</text>
<text x="94" y="266.5" font-size="9.5" text-anchor="start" fill="#000" font-family="Liberation Sans, sans-serif" >Pythia 8.315 default</text>
<text x="94" y="279.4" font-size="9.5" text-anchor="start" fill="#000" font-family="Liberation Sans, sans-serif" >Sherpa 2.2.9 default</text>
</svg></body></html>
